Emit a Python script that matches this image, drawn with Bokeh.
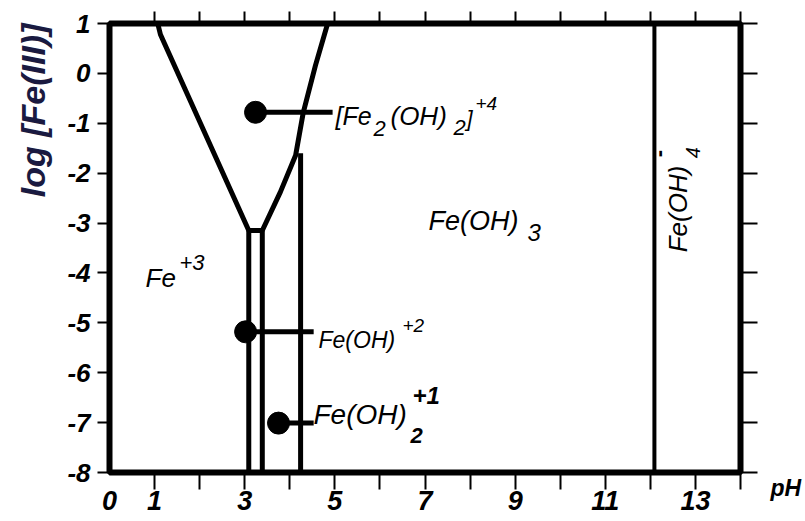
import math
from bokeh.plotting import figure
from bokeh.models import LinearAxis, FixedTicker, Label, Range1d, Title
from bokeh.embed import file_html
from bokeh.resources import INLINE

# ---- data ----
# V-shaped boundary (Fe+3 / [Fe2(OH)2]+4 / Fe(OH)3)
v_ph = [1.07, 1.13, 3.09, 3.39, 3.79, 4.13, 4.30, 4.57, 4.84]
v_log = [1.0, 0.78, -3.15, -3.15, -2.38, -1.64, -0.78, 0.16, 1.0]

# vertical boundaries
b_ph = [3.09, 3.39, 4.24]
b_top = [-3.15, -3.15, -1.60]
b_bottom = [-8.0, -8.0, -8.0]
b4_ph = [12.09]
b4_top = [1.0]
b4_bottom = [-8.0]

# species points with leader lines
sp_ph = [3.24, 3.02, 3.75]
sp_log = [-0.78, -5.18, -7.01]
sp_line_end = [4.95, 4.53, 4.53]

# ticks
x_tick_values = [0, 1, 3, 5, 7, 9, 11, 13]
x_minor_values = list(range(1, 15))
y_tick_values = list(range(-8, 2))
y_tick_labels = ["-8", "-7", "-6", "-5", "-4", "-3", "-2", "-1", "0", "1"]

FONT = "Liberation Sans"

p = figure(width=805, height=521, x_range=Range1d(0, 14), y_range=Range1d(-8, 1),
           output_backend="svg", toolbar_location=None,
           min_border_left=109, min_border_right=65, min_border_top=23, min_border_bottom=49)
p.xgrid.visible = False
p.ygrid.visible = False
p.outline_line_color = "black"
p.outline_line_width = 6
p.background_fill_color = "white"
p.border_fill_color = "white"

# bottom axis
xa = p.xaxis[0]
xa.ticker = FixedTicker(ticks=x_tick_values, minor_ticks=x_minor_values)
xa.axis_line_color = None
xa.major_tick_line_color = None
xa.major_tick_out = 17
xa.major_tick_in = 0
xa.minor_tick_out = 17
xa.minor_tick_in = 0
xa.minor_tick_line_width = 2
xa.minor_tick_line_color = "black"
xa.major_label_standoff = 1
xa.major_label_text_font = FONT
xa.major_label_text_font_style = "bold italic"
xa.major_label_text_font_size = "27px"
xa.major_label_text_color = "black"

# left axis
ya = p.yaxis[0]
ya.ticker = FixedTicker(ticks=y_tick_values)
ya.major_label_overrides = dict(zip(y_tick_values, y_tick_labels))
ya.axis_line_color = None
ya.major_tick_out = 12
ya.major_tick_in = 0
ya.major_tick_line_width = 2
ya.major_tick_line_color = "black"
ya.minor_tick_line_color = None
ya.major_label_standoff = 7
ya.major_label_text_font = FONT
ya.major_label_text_font_style = "bold italic"
ya.major_label_text_font_size = "26px"
ya.major_label_text_color = "black"

# y-axis title, aligned to the top of the axis
yt = Title(text="log [Fe(III)]", align="right", offset=0, standoff=22,
           vertical_align="top",
           text_font=FONT, text_font_style="bold italic", text_font_size="34px",
           text_color="#1a1a40")
p.add_layout(yt, "left")

# top axis (ticks only)
ta = LinearAxis(ticker=FixedTicker(ticks=x_minor_values), axis_line_color=None,
                major_tick_out=12, major_tick_in=0, major_tick_line_width=2,
                minor_tick_line_color=None, major_label_text_font_size="0px",
                major_label_text_color=None, major_label_standoff=0)
p.add_layout(ta, "above")

# right axis (ticks only)
ra = LinearAxis(ticker=FixedTicker(ticks=y_tick_values), axis_line_color=None,
                major_tick_out=17, major_tick_in=0, major_tick_line_width=2,
                minor_tick_line_color=None, major_label_text_font_size="0px",
                major_label_text_color=None, major_label_standoff=0)
p.add_layout(ra, "right")

# "pH" axis title, placed beside the end of the pH axis
pa = LinearAxis(ticker=FixedTicker(ticks=[-8]), axis_line_color=None,
                major_tick_out=0, major_tick_in=0, major_tick_line_color=None,
                minor_tick_line_color=None, major_label_overrides={-8: "\npH"},
                major_label_standoff=13, major_label_text_font=FONT,
                major_label_text_font_style="bold italic",
                major_label_text_font_size="23px", major_label_text_color="black")
p.add_layout(pa, "right")

# boundaries
p.line(v_ph, v_log, line_color="black", line_width=5)
p.segment(x0=b_ph, y0=b_bottom, x1=b_ph, y1=b_top, line_color="black", line_width=5)
p.segment(x0=b4_ph, y0=b4_bottom, x1=b4_ph, y1=b4_top, line_color="black", line_width=4)

# species markers
p.segment(x0=sp_ph, y0=sp_log, x1=sp_line_end, y1=sp_log, line_color="black", line_width=5)
p.scatter(sp_ph, sp_log, size=22, marker="circle", fill_color="black", line_color="black")


def lab(x, y, text, size, style="italic", dx=0, dy=0, angle=0, color="black"):
    lift = 7 if angle == 0 else 0
    p.add_layout(Label(x=x, y=y, x_offset=dx, y_offset=dy + lift, text=text,
                       text_font=FONT, text_font_size=f"{size}px", text_font_style=style,
                       text_color=color, text_align="left", text_baseline="alphabetic",
                       angle=angle))


# region labels
lab(0.799, -4.248, "Fe", 26)
lab(0.799, -4.248, "+3", 22, dx=34, dy=16)

lab(7.078, -3.106, "Fe(OH)", 27)
lab(7.078, -3.106, "3", 24, dx=99, dy=-11)

lab(12.603, -3.587, "Fe(OH)", 26, angle=math.pi / 2)
lab(12.936, -1.703, "4", 20, angle=math.pi / 2)
lab(12.181, -1.683, "-", 22, "bold", angle=math.pi / 2)

# species labels
lab(5.014, -1.002, "[Fe", 25)
lab(5.014, -1.002, "2", 22, dx=38, dy=-12)
lab(5.014, -1.002, "(OH)", 26, dx=55)
lab(5.014, -1.002, "2", 22, dx=118, dy=-11)
lab(5.014, -1.002, "]", 22, dx=131, dy=-2)
lab(5.014, -1.002, "+4", 19, dx=140, dy=13)

lab(4.637, -5.491, "Fe(OH)", 23)
lab(4.637, -5.491, "+2", 19, dx=84, dy=15)

lab(4.526, -6.974, "Fe(OH)", 28)
lab(4.526, -6.974, "2", 22, "bold italic", dx=97, dy=-21)
lab(4.526, -6.974, "+1", 24, "bold italic", dx=99, dy=19)

open("out.html", "w").write(file_html(p, INLINE))
